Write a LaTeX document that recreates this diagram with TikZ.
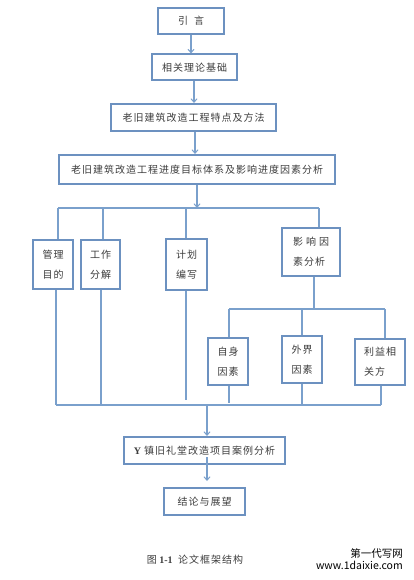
\documentclass[tikz,border=0pt]{standalone}
\usepackage{fontspec}
\setmainfont{Liberation Serif}
\newfontfamily\cjk[LetterSpace=10]{Noto Sans CJK SC}
\newfontfamily\cjkplain{Noto Sans CJK SC}
\usetikzlibrary{arrows.meta}
\definecolor{boxblue}{RGB}{108,145,192}
\definecolor{lineblue}{RGB}{122,160,204}
\definecolor{txt}{RGB}{60,60,60}
\tikzset{
  box/.style={draw=boxblue, line width=2pt, fill=white, inner sep=0pt, text=txt,
    font=\cjk\fontsize{10}{20}\selectfont, align=center},
  ln/.style={draw=lineblue, line width=1.3pt},
  arr/.style={ln, -{Straight Barb[length=3.5pt,width=6pt,line width=1pt]}},
}
\begin{document}
\begin{tikzpicture}[x=1pt,y=-1pt]
\useasboundingbox (0,0) rectangle (414,580);
% main chain boxes
\node[box, minimum width=66pt, minimum height=26pt] (b1) at (191,21) {引\hspace{6pt}言};
\node[box, minimum width=85pt, minimum height=26pt] (b2) at (194.5,67.5) {相关理论基础};
\node[box, minimum width=165pt, minimum height=27pt] (b3) at (193.5,117.5) {老旧建筑改造工程特点及方法};
\node[box, minimum width=276pt, minimum height=29pt] (b4) at (197,169.5) {老旧建筑改造工程进度目标体系及影响进度因素分析};
% second level
\node[box, minimum width=40pt, minimum height=49pt] (m1) at (53,264.5) {管理\\目的};
\node[box, minimum width=39pt, minimum height=49pt] (m2) at (100.5,264.5) {工作\\分解};
\node[box, minimum width=41pt, minimum height=51pt] (m3) at (186.5,264.5) {计划\\编写};
\node[box, minimum width=58pt, minimum height=48pt, align=left] (m4) at (311,252) {影\hspace{3pt}响\hspace{3pt}因\\素分析};
% third level
\node[box, minimum width=40pt, minimum height=47pt] (s1) at (228,361.5) {自身\\因素};
\node[box, minimum width=40pt, minimum height=47pt] (s2) at (302,359.5) {外界\\因素};
\node[box, minimum width=50pt, minimum height=46pt, align=left] (s3) at (380,362) {利益相\\关方};
% bottom boxes
\node[box, minimum width=161pt, minimum height=27pt] (y1) at (204.5,450.5) {{\rmfamily\bfseries Y} 镇旧礼堂改造项目案例分析};
\node[box, minimum width=81pt, minimum height=27pt] (c1) at (204.5,501.5) {结论与展望};
% caption and watermark
\node[text=txt, font=\fontsize{10}{12}\selectfont] (cap) at (195,560) {{\cjkplain 图} \textbf{1-1}\hspace{3pt} {\cjk 论文框架结构}};
\node[anchor=east, font=\cjkplain\fontsize{10.5}{12}\selectfont, inner sep=0pt] (w1) at (403,553) {第一代写网};
\node[anchor=east, font=\cjkplain\fontsize{10.5}{12}\selectfont, inner sep=0pt] (w2) at (403,565) {www.1daixie.com};
% main chain arrows
\draw[arr] (b1.south) -- (b1.south |- b2.north);
\draw[arr] ([xshift=-0.5pt]b2.south) -- ([xshift=-0.5pt]b2.south |- b3.north);
\draw[arr] ([xshift=1.5pt]b3.south) -- ([xshift=1.5pt]b3.south |- b4.north);
% bus 1
\coordinate (t1) at (58,208);
\coordinate (t2) at (103,208);
\coordinate (t3) at (186,208);
\coordinate (t4) at (319,208);
\draw[ln] (t1) -- (t4);
\draw[arr] (b4.south) -- (b4.south |- t1);
\draw[ln] (t1) -- (t1 |- m1.north);
\draw[ln] (t2) -- (t2 |- m2.north);
\draw[ln] (t3) -- (t3 |- m3.north);
\draw[ln] (t4) -- (t4 |- m4.north);
% bus 2
\coordinate (r1) at (229,309);
\coordinate (r2) at (302,309);
\coordinate (r3) at (385,309);
\draw[ln] (r1) -- (r3);
\draw[ln] ([xshift=3pt]m4.south) -- ([xshift=3pt]m4.south |- r1);
\draw[ln] (r1) -- (r1 |- s1.north);
\draw[ln] (r2) -- (r2 |- s2.north);
\draw[ln] (r3) -- (r3 |- s3.north);
% bottom bus
\coordinate (q1) at (56,405);
\coordinate (q2) at (101,405);
\coordinate (q3) at (186,405);
\coordinate (q4) at (229,405);
\coordinate (q5) at (302,405);
\coordinate (q6) at (381,405);
\coordinate (q7) at (207,405);
\draw[ln] (q1) -- (q6);
\draw[ln] (q1 |- m1.south) -- (q1);
\draw[ln] (q2 |- m2.south) -- (q2);
\draw[ln] (q3 |- m3.south) -- ([yshift=5pt]q3);
\draw[ln] (q4 |- s1.south) -- ([yshift=2pt]q4);
\draw[ln] (q5 |- s2.south) -- (q5);
\draw[ln] (q6 |- s3.south) -- (q6);
\draw[arr] (q7) -- (q7 |- y1.north);
% last arrow
\coordinate (p1) at (207,457);
\coordinate (p2) at (207,481);
\draw[arr] (p1) -- (p2);
\end{tikzpicture}
\end{document}
